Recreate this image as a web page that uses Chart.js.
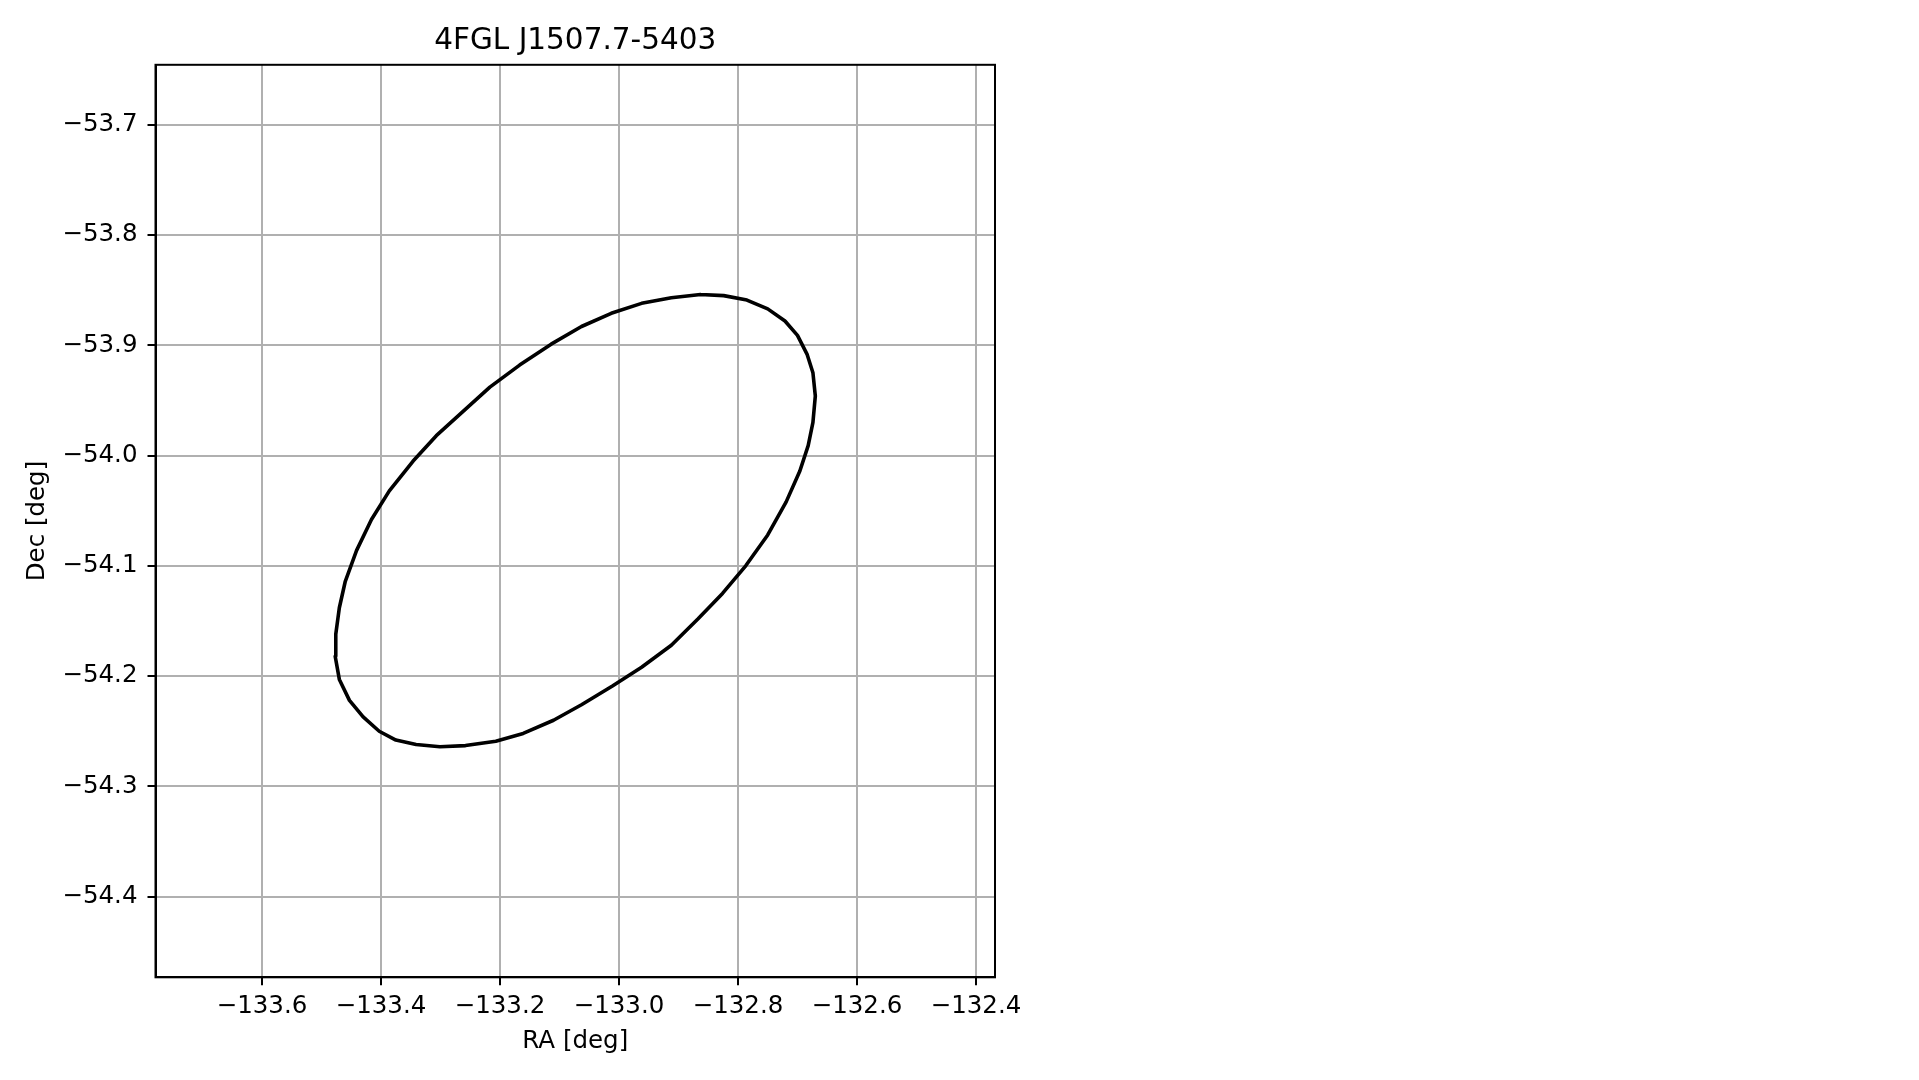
<!DOCTYPE html>
<html>
<head>
<meta charset="utf-8">
<style>
  html, body { margin: 0; padding: 0; background: #ffffff; }
  #c { display: block; }
</style>
<script src="https://cdn.jsdelivr.net/npm/chart.js@4.4.1/dist/chart.umd.min.js"></script>
</head>
<body>
<canvas id="c" width="1919" height="1080"></canvas>
<script>
// ---- data ----
const chartTitle = '4FGL J1507.7-5403';
const xAxisTitle = 'RA [deg]';
const yAxisTitle = 'Dec [deg]';

const ra = [-132.863,-132.824,-132.785,-132.750,-132.721,-132.700,-132.684,-132.674,-132.670,-132.674,
            -132.682,-132.696,-132.719,-132.750,-132.787,-132.826,-132.867,-132.912,-132.962,-133.011,
            -133.063,-133.110,-133.161,-133.207,-133.258,-133.301,-133.341,-133.375,-133.403,-133.430,
            -133.453,-133.470,-133.477,-133.476,-133.470,-133.460,-133.441,-133.416,-133.386,-133.346,
            -133.307,-133.262,-133.217,-133.167,-133.114,-133.063,-133.013,-132.962,-132.912,-132.863];
const dec = [-53.854,-53.855,-53.859,-53.867,-53.878,-53.891,-53.908,-53.925,-53.946,-53.970,
             -53.991,-54.014,-54.042,-54.072,-54.100,-54.125,-54.148,-54.172,-54.192,-54.209,
             -54.226,-54.240,-54.252,-54.259,-54.263,-54.264,-54.262,-54.258,-54.250,-54.237,
             -54.222,-54.203,-54.182,-54.162,-54.138,-54.114,-54.086,-54.058,-54.032,-54.005,
             -53.982,-53.960,-53.938,-53.918,-53.899,-53.883,-53.871,-53.862,-53.857,-53.854];

const xTicks = [-133.6, -133.4, -133.2, -133.0, -132.8, -132.6, -132.4];
const xTickLabels = ['\u2212133.6', '\u2212133.4', '\u2212133.2', '\u2212133.0', '\u2212132.8', '\u2212132.6', '\u2212132.4'];
const yTicks = [-54.4, -54.3, -54.2, -54.1, -54.0, -53.9, -53.8, -53.7];
const yTickLabels = ['\u221254.4', '\u221254.3', '\u221254.2', '\u221254.1', '\u221254.0', '\u221253.9', '\u221253.8', '\u221253.7'];

const xRange = [-133.779, -132.368];
const yRange = [-54.4731, -53.6457];

// ---- chart ----
const FONT = 'DejaVu Sans';
const points = ra.map((v, i) => ({ x: v, y: dec[i] }));

function labelFor(ticks, labels) {
  return function (value) {
    for (let i = 0; i < ticks.length; i++) {
      if (Math.abs(ticks[i] - value) < 1e-9) return labels[i];
    }
    return '';
  };
}

const framePlugin = {
  id: 'frame',
  afterDraw(chart) {
    const { ctx, chartArea: a } = chart;
    ctx.save();
    ctx.strokeStyle = '#000000';
    ctx.lineWidth = 2;
    ctx.strokeRect(a.left, a.top, a.right - a.left, a.bottom - a.top);
    ctx.restore();
  }
};

new Chart(document.getElementById('c'), {
  type: 'scatter',
  data: {
    datasets: [{
      data: points,
      showLine: true,
      borderColor: '#000000',
      backgroundColor: '#000000',
      borderWidth: 3.6,
      borderJoinStyle: 'round',
      borderCapStyle: 'round',
      pointRadius: 0,
      pointHoverRadius: 0,
      tension: 0,
      fill: false
    }]
  },
  options: {
    responsive: false,
    animation: false,
    devicePixelRatio: 1,
    events: [],
    layout: { padding: { left: 0, right: 924, top: 0, bottom: 0 } },
    plugins: {
      legend: { display: false },
      tooltip: { enabled: false },
      title: {
        display: true,
        text: chartTitle,
        fullSize: false,
        color: '#000000',
        font: { family: FONT, size: 29.5, weight: 'normal' },
        padding: { top: 24, bottom: 5.4 }
      }
    },
    scales: {
      x: {
        type: 'linear',
        position: 'bottom',
        min: xRange[0],
        max: xRange[1],
        afterBuildTicks(scale) { scale.ticks = xTicks.map(v => ({ value: v })); },
        afterFit(scale) { scale.height = 102.7; },
        grid: {
          color: '#b0b0b0',
          lineWidth: 2,
          drawTicks: true,
          tickLength: 8,
          tickColor: '#000000',
          tickWidth: 2
        },
        border: { display: true, color: '#000000', width: 2 },
        ticks: {
          color: '#000000',
          font: { family: FONT, size: 24.5 },
          padding: 7,
          maxRotation: 0,
          autoSkip: false,
          callback: labelFor(xTicks, xTickLabels)
        },
        title: {
          display: true,
          text: xAxisTitle,
          color: '#000000',
          font: { family: FONT, size: 24.5 },
          padding: { top: 0, bottom: 24 }
        }
      },
      y: {
        type: 'linear',
        position: 'left',
        min: yRange[0],
        max: yRange[1],
        afterBuildTicks(scale) { scale.ticks = yTicks.map(v => ({ value: v })); },
        afterFit(scale) { scale.width = 155.5; },
        grid: {
          color: '#b0b0b0',
          lineWidth: 2,
          drawTicks: true,
          tickLength: 8,
          tickColor: '#000000',
          tickWidth: 2
        },
        border: { display: true, color: '#000000', width: 2 },
        ticks: {
          color: '#000000',
          font: { family: FONT, size: 24.5 },
          padding: 10,
          autoSkip: false,
          callback: labelFor(yTicks, yTickLabels)
        },
        title: {
          display: true,
          text: yAxisTitle,
          color: '#000000',
          font: { family: FONT, size: 24.5 },
          padding: { top: 23, bottom: 0 }
        }
      }
    }
  },
  plugins: [framePlugin]
});
</script>
</body>
</html>
